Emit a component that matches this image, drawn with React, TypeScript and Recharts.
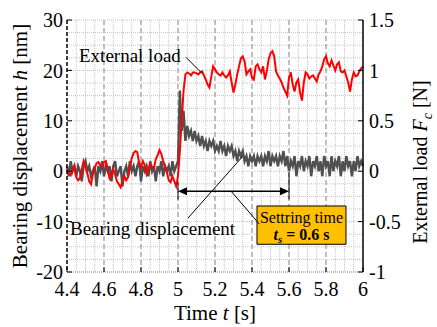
import React from 'react'
import {
  LineChart,
  Line,
  XAxis,
  YAxis,
  CartesianGrid,
  ReferenceLine,
  ReferenceArea,
  Customized
} from 'recharts'

document.body.style.margin = '0'

// sampling grid of the recording (s)
const tStart = 4.4
const tStep = 0.01

// external load F_c [N], 4.40 .. 5.00
const loadBefore = [
  0.02, -0.02, -0.04, 0.02, 0.05, -0.06, -0.09, -0.07, 0.02, 0.1,
  0.04, -0.02, -0.1, -0.13, -0.03, 0.03, 0.08, 0.09, 0.06, 0.05,
  0.09, 0.1, 0.02, -0.07, -0.04, 0.02, -0.03, -0.1, -0.13, -0.16,
  -0.1, -0.05, -0.09, -0.06, 0.04, 0.13, 0.18, 0.2, 0.19, 0.08,
  0.04, 0.1, 0.06, -0.03, 0.02, 0.07, 0.04, 0.03, 0.12, 0.16,
  0.21, 0.17, 0.1, 0.04, -0.01, -0.09, -0.11, -0.05, -0.1, -0.15,
  -0.05
]
// 5.01 .. 5.03
const loadRise = [0.2, 0.5, 0.8]
// 5.04 .. 6.00
const loadAfter = [
  0.96, 0.98, 0.97, 0.95, 0.98, 0.98, 0.97, 0.96, 0.98, 0.99,
  0.95, 0.91, 0.86, 0.83, 0.94, 1.04, 1.01, 0.98, 0.96, 0.95,
  0.98, 0.95, 0.93, 0.95, 0.99, 0.88, 0.78, 0.86, 0.96, 1.04,
  1.12, 1.14, 1.09, 0.96, 0.99, 1.01, 0.93, 0.91, 1.04, 1.06,
  1.01, 0.98, 1.04, 0.91, 0.99, 1.11, 1.17, 1.19, 1.14, 0.99,
  0.95, 0.92, 0.88, 0.83, 0.79, 0.75, 0.93, 0.98, 0.86, 0.79,
  0.88, 0.91, 0.78, 0.7, 0.88, 0.98, 0.96, 0.92, 0.94, 0.95,
  0.92, 0.89, 0.96, 0.99, 1.04, 1.11, 1.14, 1.07, 1.04, 1.1,
  1.05, 1.0, 1.06, 1.08, 0.99, 0.98, 1.0, 0.94, 0.88, 0.79,
  0.91, 0.98, 0.94, 0.95, 0.99, 1.02, 1.04
]

// bearing displacement h [nm], 4.40 .. 4.99
const dispBefore = [
  1, -1, 2, 0, 1, -1, 1, 0, -2, 1,
  2, 0, 1, -1, 0, 1, -3, 1, 0, 2,
  -1, 1, 0, 1, -2, 1, 2, -1, 0, 1,
  -3, 0, 1, -1, 2, 0, 1, -1, 1, 2,
  -2, 1, 0, 1, -1, 2, 0, 1, -2, 1,
  0, 2, -1, 1, 0, 1, -1, 2, 0, 1
]
// 5.00 .. 6.00
const dispAfter = [
  2, 16, 8, 12, 6, 9, 7, 8, 6, 8,
  6, 7, 5, 7, 5, 6, 4, 6, 5, 6,
  4, 5, 4, 6, 4, 5, 3, 5, 4, 5,
  3, 4, 2, 4, 3, 4, 2, 3, 1, 3,
  2, 3, 1, 3, 2, 3, 1, 3, 2, 4,
  1, 3, 2, 3, 1, 3, 2, 4, 1, 3,
  0, 2, 1, 3, -1, 2, 1, 3, 0, 2,
  1, 3, -1, 2, 1, 3, 0, 2, -1, 3,
  1, 2, -1, 3, 0, 2, 1, 3, -1, 2,
  0, 3, 1, 2, -1, 2, 0, 3, 1, 2,
  1
]

const xTicks = [4.4, 4.6, 4.8, 5, 5.2, 5.4, 5.6, 5.8, 6]
const xMajor = [4.6, 4.8, 5, 5.2, 5.4, 5.6, 5.8]
const xMinor = [
  4.45, 4.5, 4.55, 4.65, 4.7, 4.75, 4.85, 4.9, 4.95, 5.05, 5.1, 5.15,
  5.25, 5.3, 5.35, 5.45, 5.5, 5.55, 5.65, 5.7, 5.75, 5.85, 5.9, 5.95
]
const hTicks = [-20, -10, 0, 10, 20, 30]
const hMinor = [
  -17.5, -15, -12.5, -7.5, -5, -2.5, 2.5, 5, 7.5, 12.5, 15, 17.5, 22.5, 25,
  27.5, -20, -10, 0, 10, 20, 30
]
const fTicks = [-1, -0.5, 0, 0.5, 1, 1.5]

const load = [...loadBefore, ...loadRise, ...loadAfter]
const disp = [...dispBefore, ...dispAfter]
const data = load.map((f, i) => ({
  t: +(tStart + i * tStep).toFixed(2),
  f,
  h: disp[i]
}))

const serif = 'Liberation Serif'
const font = { fontFamily: serif }

const Tick = (p: any) => (
  <text
    x={p.x}
    y={p.y}
    dy={p.orientation === 'bottom' ? '0.71em' : '0.355em'}
    textAnchor={p.textAnchor}
    fontSize={20}
    fontFamily={serif}
    style={font}
    fill="#000"
  >
    {p.payload.value}
  </text>
)

const ArrowShape = (p: any) => {
  const { x1, y1, x2, y2 } = p
  const s = 9
  const w = 4
  return (
    <g>
      <line x1={x1 + s} y1={y1} x2={x2 - s} y2={y2} stroke="#000" strokeWidth={1.5} />
      <polygon points={`${x1},${y1} ${x1 + s},${y1 - w} ${x1 + s},${y1 + w}`} fill="#000" />
      <polygon points={`${x2},${y2} ${x2 - s},${y2 - w} ${x2 - s},${y2 + w}`} fill="#000" />
    </g>
  )
}

const BoxText = (p: any) => {
  const { x, y, width } = p.viewBox
  const cx = x + width / 2
  return (
    <g fill="#000">
      <text x={cx} y={y + 17} fontSize={16} textAnchor="middle" fontFamily={serif} style={font}>
        Settring time
      </text>
      <text x={cx} y={y + 34} fontSize={16} textAnchor="middle" fontWeight="bold" fontFamily={serif} style={font}>
        <tspan fontStyle="italic">t</tspan>
        <tspan fontStyle="italic" fontSize={11} dy={3}>s</tspan>
        <tspan dy={-3}> = 0.6 s</tspan>
      </text>
    </g>
  )
}

const Texts = () => (
  <g fill="#000">
    <text transform="rotate(-90)" x={-146} y={27} fontSize={21} textAnchor="middle" fontFamily={serif} style={font}>
      Bearing displacement <tspan fontStyle="italic">h</tspan> [nm]
    </text>
    <text transform="rotate(-90)" x={-162} y={427} fontSize={20} textAnchor="middle" fontFamily={serif} style={font}>
      External load <tspan fontStyle="italic">F</tspan>
      <tspan fontStyle="italic" fontSize={14} dy={5}>c</tspan>
      <tspan dy={-5}> [N]</tspan>
    </text>
    <text x={215} y={320} fontSize={21} textAnchor="middle" fontFamily={serif} style={font}>
      Time <tspan fontStyle="italic">t</tspan> [s]
    </text>
    <text x={79} y={62} fontSize={19} fontFamily={serif} style={font}>External load</text>
    <text x={70} y={235} fontSize={19} fontFamily={serif} style={font}>Bearing displacement</text>
  </g>
)

export default function App() {
  return (
    <LineChart
      width={437}
      height={327}
      data={data}
      margin={{ top: 20, right: 24, bottom: 25, left: 17 }}
    >
      <CartesianGrid
        yAxisId="left"
        verticalValues={xMinor}
        horizontalValues={hMinor}
        stroke="#c4c4c4"
        strokeDasharray="1 1"
      />
      <CartesianGrid
        yAxisId="left"
        horizontal={false}
        verticalValues={xMajor}
        stroke="#ababab"
        strokeWidth={1.5}
        strokeDasharray="5 3"
      />
      <XAxis
        dataKey="t"
        type="number"
        domain={[4.4, 6]}
        ticks={xTicks}
        interval={0}
        height={30}
        tick={<Tick orientation="bottom" />}
        tickSize={-5}
        tickMargin={15}
        axisLine={{ stroke: '#999', strokeDasharray: '1 1' }}
        tickLine={{ stroke: '#000' }}
      />
      <YAxis
        yAxisId="left"
        domain={[-20, 30]}
        ticks={hTicks}
        interval={0}
        width={50}
        tick={<Tick orientation="left" />}
        tickSize={-5}
        tickMargin={9}
        axisLine={{ stroke: '#000', strokeDasharray: '4 2', strokeWidth: 1.5 }}
        tickLine={{ stroke: '#000' }}
      />
      <YAxis
        yAxisId="right"
        orientation="right"
        domain={[-1, 1.5]}
        ticks={fTicks}
        interval={0}
        width={50}
        tick={<Tick orientation="right" />}
        tickSize={-5}
        tickMargin={11}
        axisLine={{ stroke: '#000', strokeWidth: 1.5 }}
        tickLine={{ stroke: '#000' }}
      />
      <ReferenceArea
        yAxisId="left"
        x1={5.427}
        x2={5.908}
        y1={-14.5}
        y2={-6.9}
        fill="#FFC000"
        fillOpacity={1}
        stroke="#000"
        strokeWidth={1}
        label={<BoxText />}
      />
      <Line
        yAxisId="left"
        dataKey="h"
        type="linear"
        stroke="#505050"
        strokeWidth={2.4}
        dot={false}
        isAnimationActive={false}
      />
      <Line
        yAxisId="right"
        dataKey="f"
        type="linear"
        stroke="#ff0000"
        strokeWidth={2}
        dot={false}
        isAnimationActive={false}
      />
      <ReferenceLine
        yAxisId="left"
        segment={[{ x: 5, y: -2.2 }, { x: 5, y: -5.6 }]}
        stroke="#000"
        strokeWidth={1}
      />
      <ReferenceLine
        yAxisId="left"
        segment={[{ x: 5.6, y: -0.2 }, { x: 5.6, y: -5.6 }]}
        stroke="#000"
        strokeWidth={1}
      />
      <ReferenceLine
        yAxisId="left"
        segment={[{ x: 5, y: -4 }, { x: 5.6, y: -4 }]}
        shape={ArrowShape}
      />
      <ReferenceLine
        yAxisId="left"
        segment={[{ x: 5.29, y: -4.1 }, { x: 5.44, y: -10.5 }]}
        stroke="#000"
        strokeWidth={1}
      />
      <ReferenceLine
        yAxisId="left"
        segment={[{ x: 5.054, y: -9.3 }, { x: 5.351, y: 3 }]}
        stroke="#000"
        strokeWidth={1}
      />
      <ReferenceLine
        yAxisId="left"
        segment={[{ x: 5.043, y: 22.6 }, { x: 5.13, y: 19.4 }]}
        stroke="#000"
        strokeWidth={1}
      />
      <Customized component={<Texts />} />
    </LineChart>
  )
}
